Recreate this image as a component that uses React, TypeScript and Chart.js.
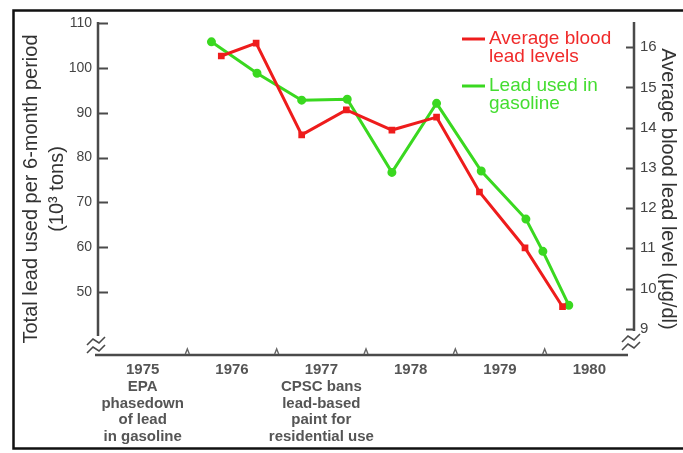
import React, { useEffect, useRef } from "react";
import { Chart, registerables } from "chart.js";

Chart.register(...registerables);

const W = 683;
const H = 453;
const FONT = '"Liberation Sans", Arial, Helvetica, sans-serif';

// x axis: years (labels centred in each year span)
const yearTickValues = [1975.5, 1976.5, 1977.5, 1978.5, 1979.5, 1980.5];
const yearLabels = ["1975", "1976", "1977", "1978", "1979", "1980"];
const yearNotes: string[][] = [
  ["EPA", "phasedown", "of lead", "in gasoline"],
  [],
  ["CPSC bans", "lead-based", "paint for", "residential use"],
  [],
  [],
  [],
];
const yearBoundaries = [1976, 1977, 1978, 1979, 1980];

// y axes ticks
const leftTicks = [50, 60, 70, 80, 90, 100, 110];
const rightTicks = [9, 10, 11, 12, 13, 14, 15, 16];

// Lead used in gasoline (10^3 tons per 6-month period) — left axis
const gasX = [1976.27, 1976.78, 1977.28, 1977.79, 1978.29, 1978.79, 1979.29, 1979.79, 1979.98, 1980.27];
const gasY = [105.8, 98.8, 92.8, 93.0, 76.7, 92.1, 77.0, 66.3, 59.1, 47.1];

// Average blood lead levels (µg/dl) — right axis
const bloodX = [1976.38, 1976.77, 1977.28, 1977.78, 1978.29, 1978.79, 1979.27, 1979.78, 1980.2];
const bloodY = [15.78, 16.1, 13.82, 14.44, 13.94, 14.26, 12.4, 11.01, 9.55];

const legendItems = [
  { lines: ["Average blood", "lead levels"], color: "#ee1c1c", text: "#f02a2a" },
  { lines: ["Lead used in", "gasoline"], color: "#3ad820", text: "#44dd30" },
];

const leftTitle = ["Total lead used per 6-month period", "(10³ tons)"];
const rightTitle = "Average blood lead level (μg/dl)";

const AXIS = "#4a4a4a";

function drawBreak(ctx: CanvasRenderingContext2D, cx: number, cy: number) {
  ctx.save();
  ctx.strokeStyle = AXIS;
  ctx.lineWidth = 1.6;
  ctx.beginPath();
  for (const d of [-4, 4]) {
    ctx.moveTo(cx - 9, cy + d + 5);
    ctx.lineTo(cx - 3, cy + d - 1);
    ctx.lineTo(cx + 3, cy + d + 3);
    ctx.lineTo(cx + 9, cy + d - 3);
  }
  ctx.stroke();
  ctx.restore();
}

const decorPlugin = {
  id: "decor",
  beforeDatasetsDraw(chart: any) {
    const { ctx, chartArea } = chart;
    const { left, right, top, bottom } = chartArea;
    const yL = chart.scales.y;
    const yR = chart.scales.y2;
    const xs = chart.scales.x;
    ctx.save();
    // outer frame
    ctx.strokeStyle = "#111";
    ctx.lineWidth = 2.5;
    ctx.strokeRect(13.5, 10.5, 720, 438);

    ctx.strokeStyle = AXIS;
    ctx.lineWidth = 2.5;
    ctx.beginPath();
    // left axis
    ctx.moveTo(left, top - 1);
    ctx.lineTo(left, bottom - 19);
    // bottom axis
    ctx.moveTo(left - 3, bottom);
    ctx.lineTo(right - 6, bottom);
    // right axis
    ctx.moveTo(right, top - 1);
    ctx.lineTo(right, bottom - 24);
    ctx.stroke();

    // ticks on y axes (inward)
    ctx.lineWidth = 2;
    ctx.beginPath();
    for (const v of leftTicks) {
      const p = Math.round(yL.getPixelForValue(v)) + 0.5;
      ctx.moveTo(left, p);
      ctx.lineTo(left + 10, p);
    }
    for (const v of rightTicks) {
      const p = Math.round(yR.getPixelForValue(v)) + 0.5;
      ctx.moveTo(right - 8, p);
      ctx.lineTo(right, p);
    }
    ctx.stroke();

    // small marks at year boundaries
    ctx.lineWidth = 1.4;
    ctx.strokeStyle = "#666";
    ctx.beginPath();
    for (const v of yearBoundaries) {
      const p = xs.getPixelForValue(v);
      ctx.moveTo(p - 2, bottom - 1);
      ctx.lineTo(p, bottom - 6);
      ctx.lineTo(p + 2, bottom - 1);
    }
    ctx.stroke();
    ctx.restore();

    drawBreak(ctx, left - 2, bottom - 11);
    drawBreak(ctx, right - 3, bottom - 14);
  },
  afterDraw(chart: any) {
    const { ctx, chartArea } = chart;
    const lx = chartArea.right - 172;
    let ly = chartArea.top + 16;
    ctx.save();
    ctx.font = `19px ${FONT}`;
    ctx.textBaseline = "middle";
    ctx.textAlign = "left";
    for (const item of legendItems) {
      ctx.strokeStyle = item.color;
      ctx.lineWidth = 3;
      ctx.beginPath();
      ctx.moveTo(lx, ly);
      ctx.lineTo(lx + 23, ly);
      ctx.stroke();
      ctx.fillStyle = item.text;
      item.lines.forEach((t, i) => ctx.fillText(t, lx + 27, ly + i * 18));
      ly += 47;
    }
    ctx.restore();
  },
};

export default function App() {
  const ref = useRef<HTMLCanvasElement | null>(null);

  useEffect(() => {
    const canvas = ref.current;
    if (!canvas) return;
    const chart = new Chart(canvas, {
      type: "line",
      data: {
        datasets: [
          {
            label: "Average blood lead levels",
            data: bloodX.map((x, i) => ({ x, y: bloodY[i] })),
            yAxisID: "y2",
            borderColor: "#ee1c1c",
            backgroundColor: "#ee1c1c",
            borderWidth: 3,
            pointStyle: "rect",
            pointRadius: 2.6,
            tension: 0,
          },
          {
            label: "Lead used in gasoline",
            data: gasX.map((x, i) => ({ x, y: gasY[i] })),
            yAxisID: "y",
            borderColor: "#3ad820",
            backgroundColor: "#3ad820",
            borderWidth: 3,
            pointStyle: "circle",
            pointRadius: 3,
            tension: 0,
          },
        ],
      },
      options: {
        animation: false,
        responsive: false,
        devicePixelRatio: 1,
        events: [],
        layout: { padding: { top: 23, bottom: 0, left: 0, right: 0 } },
        plugins: { legend: { display: false }, tooltip: { enabled: false } },
        scales: {
          x: {
            type: "linear",
            position: "bottom",
            min: 1975,
            max: 1981,
            afterBuildTicks: (s: any) => {
              s.ticks = yearTickValues.map((v) => ({ value: v }));
            },
            afterFit: (s: any) => {
              s.height = 98;
            },
            grid: { display: false, drawTicks: false },
            border: { display: false },
            ticks: {
              padding: 6,
              autoSkip: false,
              maxRotation: 0,
              color: "#555",
              font: { family: FONT, size: 15, weight: "bold", lineHeight: 1.13 },
              callback: (v: any) => {
                const i = yearTickValues.indexOf(Number(v));
                if (i < 0) return "";
                return [yearLabels[i], ...yearNotes[i]];
              },
            },
          },
          y: {
            type: "linear",
            position: "left",
            min: 36,
            max: 110,
            afterBuildTicks: (s: any) => {
              s.ticks = leftTicks.map((v) => ({ value: v }));
            },
            afterFit: (s: any) => {
              s.width = 98;
            },
            grid: { display: false, drawTicks: false },
            border: { display: false },
            ticks: {
              padding: 6,
              color: "#444",
              font: { family: FONT, size: 14 },
            },
            title: {
              display: true,
              text: leftTitle,
              color: "#333",
              font: { family: FONT, size: 20, lineHeight: 1.3 },
              padding: { top: 18, bottom: 0 },
            },
          },
          y2: {
            type: "linear",
            position: "right",
            min: 8.35,
            max: 16.6,
            afterBuildTicks: (s: any) => {
              s.ticks = rightTicks.map((v) => ({ value: v }));
            },
            afterFit: (s: any) => {
              s.width = 49;
            },
            grid: { display: false, drawTicks: false },
            border: { display: false },
            ticks: {
              padding: 6,
              color: "#444",
              font: { family: FONT, size: 15 },
            },
            title: {
              display: true,
              text: rightTitle,
              color: "#333",
              font: { family: FONT, size: 20, lineHeight: 1.3 },
              padding: { top: 2, bottom: 0 },
            },
          },
        },
      } as any,
      plugins: [decorPlugin],
    });
    return () => chart.destroy();
  }, []);

  return (
    <div style={{ position: "absolute", left: 0, top: 0, width: W, height: H, background: "#fff" }}>
      <canvas ref={ref} width={W} height={H} style={{ width: W, height: H, display: "block" }} />
    </div>
  );
}
